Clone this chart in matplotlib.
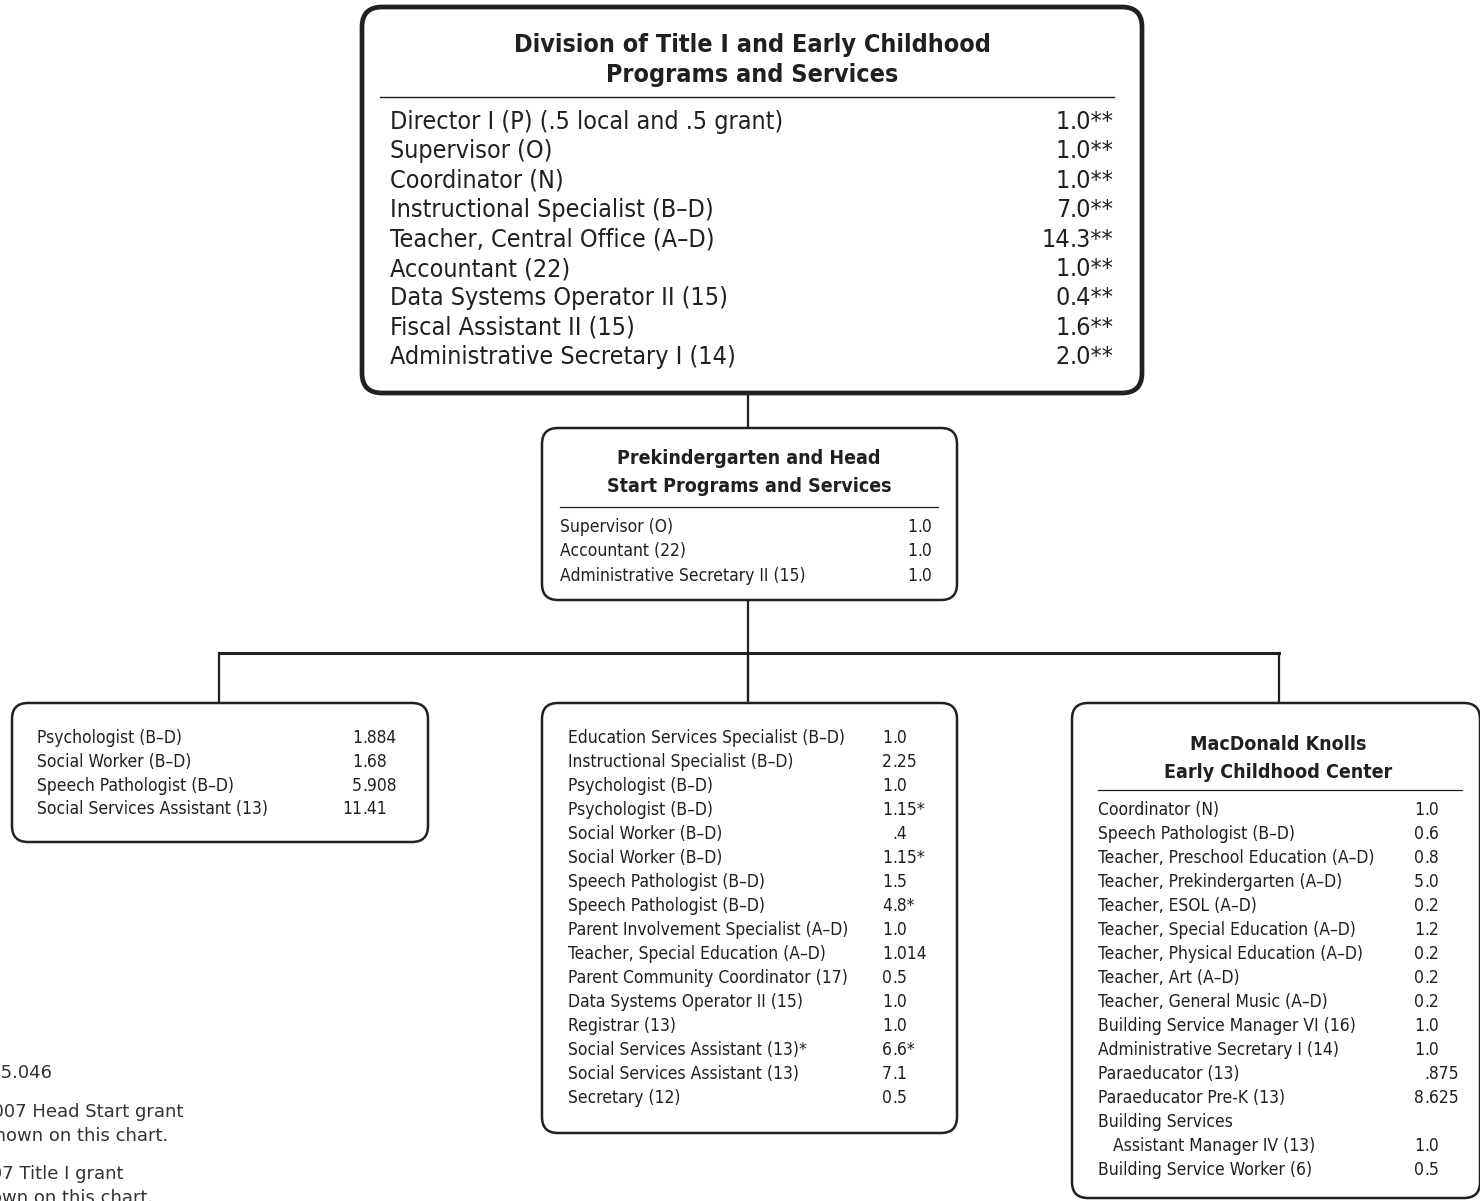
import matplotlib
matplotlib.use('Agg')
import matplotlib.pyplot as plt
from matplotlib.patches import FancyBboxPatch

# ---- chart content ----
top_title = ["Division of Title I and Early Childhood", "Programs and Services"]
top_labels = ["Director I (P) (.5 local and .5 grant)", "Supervisor (O)", "Coordinator (N)",
              "Instructional Specialist (B\u2013D)", "Teacher, Central Office (A\u2013D)",
              "Accountant (22)", "Data Systems Operator II (15)", "Fiscal Assistant II (15)",
              "Administrative Secretary I (14)"]
top_values = ["1.0**", "1.0**", "1.0**", "7.0**", "14.3**", "1.0**", "0.4**", "1.6**", "2.0**"]

prek_title = ["Prekindergarten and Head", "Start Programs and Services"]
prek_labels = ["Supervisor (O)", "Accountant (22)", "Administrative Secretary II (15)"]
prek_values = ["1.0", "1.0", "1.0"]

left_labels = ["Psychologist (B\u2013D)", "Social Worker (B\u2013D)", "Speech Pathologist (B\u2013D)",
               "Social Services Assistant (13)"]
left_values = ["1.884", "1.68", "5.908", "11.41"]

mid_labels = ["Education Services Specialist (B\u2013D)", "Instructional Specialist (B\u2013D)",
              "Psychologist (B\u2013D)", "Psychologist (B\u2013D)", "Social Worker (B\u2013D)",
              "Social Worker (B\u2013D)", "Speech Pathologist (B\u2013D)", "Speech Pathologist (B\u2013D)",
              "Parent Involvement Specialist (A\u2013D)", "Teacher, Special Education (A\u2013D)",
              "Parent Community Coordinator (17)", "Data Systems Operator II (15)",
              "Registrar (13)", "Social Services Assistant (13)*", "Social Services Assistant (13)",
              "Secretary (12)"]
mid_values = ["1.0", "2.25", "1.0", "1.15*", ".4", "1.15*", "1.5", "4.8*", "1.0", "1.014",
              "0.5", "1.0", "1.0", "6.6*", "7.1", "0.5"]

mk_title = ["MacDonald Knolls", "Early Childhood Center"]
mk_labels = ["Coordinator (N)", "Speech Pathologist (B\u2013D)", "Teacher, Preschool Education (A\u2013D)",
             "Teacher, Prekindergarten (A\u2013D)", "Teacher, ESOL (A\u2013D)",
             "Teacher, Special Education (A\u2013D)", "Teacher, Physical Education (A\u2013D)",
             "Teacher, Art (A\u2013D)", "Teacher, General Music (A\u2013D)",
             "Building Service Manager VI (16)", "Administrative Secretary I (14)",
             "Paraeducator (13)", "Paraeducator Pre-K (13)", "Building Services",
             "   Assistant Manager IV (13)", "Building Service Worker (6)"]
mk_values = ["1.0", "0.6", "0.8", "5.0", "0.2", "1.2", "0.2", "0.2", "0.2", "1.0", "1.0",
             ".875", "8.625", "", "1.0", "0.5"]

notes = ["F.T.E. Positions 105.046",
         "*Positions funded by the FY 2007 Head Start grant",
         "are not shown on this chart.",
         "**Positions funded by the FY 2007 Title I grant",
         "are not shown on this chart."]

INK = '#231f20'
FONT = dict(family='DejaVu Sans', stretch='condensed', color=INK, zorder=3)

fig = plt.figure(figsize=(14.8, 12.01), dpi=100)
ax = fig.add_axes([0, 0, 1, 1])
ax.set_xlim(0, 1480)
ax.set_ylim(1201, 0)
ax.axis('off')


def box(x0, y0, x1, y1, lw, r=18):
    p = FancyBboxPatch((x0, y0), x1 - x0, y1 - y0,
                       boxstyle="round,pad=0,rounding_size=%d" % r,
                       fc='white', ec=INK, lw=lw, zorder=2)
    ax.add_patch(p)


def value(xdot, y, v, size):
    # line the numbers up on the decimal point
    if v == "":
        return
    i = v.index('.')
    if v[:i]:
        ax.text(xdot, y, v[:i], ha='right', va='center', fontsize=size, **FONT)
    ax.text(xdot, y, v[i:], ha='left', va='center', fontsize=size, **FONT)


def rows(labels, values, x, xdot, y0, dy, size):
    for k, (lab, v) in enumerate(zip(labels, values)):
        y = y0 + k * dy
        ax.text(x, y, lab, ha='left', va='center', fontsize=size, **FONT)
        value(xdot, y, v, size)


def title(xc, ys, lines, size):
    for y, t in zip(ys, lines):
        ax.text(xc, y, t, ha='center', va='center', fontsize=size, weight='bold', **FONT)


# connectors
ax.plot([748, 748], [393, 430], color=INK, lw=1.6, zorder=1)
ax.plot([748, 748], [598, 705], color=INK, lw=1.6, zorder=1)
ax.plot([219, 1279], [653, 653], color=INK, lw=2.2, zorder=1)
for xc in [219, 748, 1279]:
    ax.plot([xc, xc], [653, 705], color=INK, lw=1.6, zorder=1)

# top box
box(362, 7, 1142, 393, 3.4, r=20)
title(752, [45, 75], top_title, 18)
ax.plot([380, 1114], [97, 97], color=INK, lw=1.0, zorder=3)
rows(top_labels, top_values, 390, 1070, 122, 29.4, 18)

# prekindergarten box
box(542, 428, 957, 600, 1.8, r=16)
title(749, [458, 487], prek_title, 14)
ax.plot([560, 938], [507, 507], color=INK, lw=0.9, zorder=3)
rows(prek_labels, prek_values, 560, 917, 527, 24.4, 12.5)

# left box
box(12, 703, 428, 842, 1.8, r=16)
rows(left_labels, left_values, 37, 362, 738, 23.8, 12.5)

# middle box
box(542, 703, 957, 1133, 1.8, r=16)
rows(mid_labels, mid_values, 568, 892, 738, 24.0, 12.5)

# MacDonald Knolls box
box(1072, 703, 1480, 1198, 1.8, r=16)
title(1278, [745, 773], mk_title, 14)
ax.plot([1098, 1462], [790, 790], color=INK, lw=0.9, zorder=3)
rows(mk_labels, mk_values, 1098, 1424, 810, 24.0, 12.5)

# footnotes (cut off by the left edge, as in the source page)
note_x = [52, 183, 168, 123, 153]
note_y = [1073, 1112, 1136, 1174, 1198]
for t, xx, yy in zip(notes, note_x, note_y):
    ax.text(xx, yy, t, ha='right', va='center', fontsize=13,
            family='DejaVu Sans', color='#333333', zorder=3)

fig.savefig('out.png', dpi=100)
